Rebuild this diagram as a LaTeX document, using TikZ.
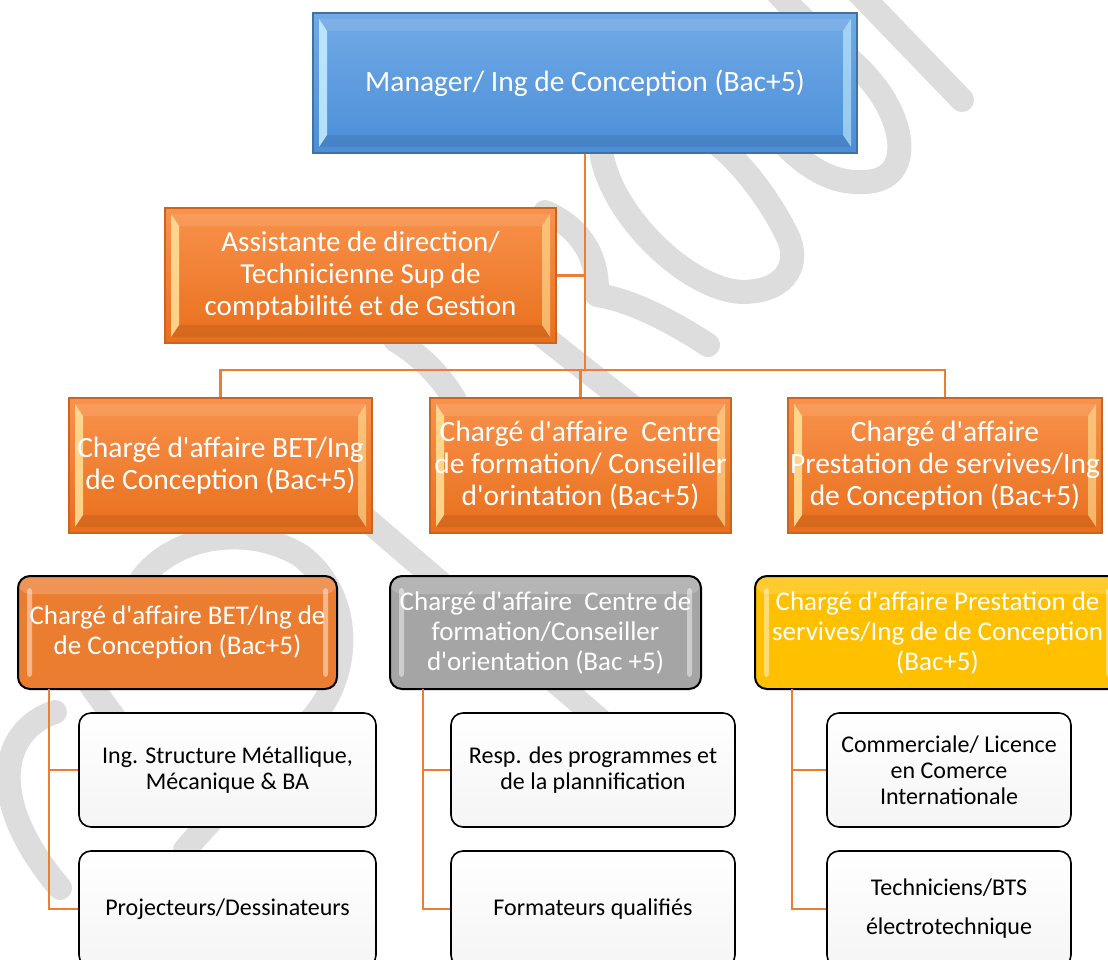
\documentclass[tikz,border=0pt]{standalone}
\usepackage{fontspec}
\setmainfont{Carlito}[Ligatures=TeXOff]
\usetikzlibrary{calc}
\definecolor{connc}{HTML}{ED7D31}
\definecolor{blueT}{HTML}{72AAE6}
\definecolor{blueB}{HTML}{4A8ED8}
\definecolor{blueD}{HTML}{41719C}
\definecolor{blueL}{HTML}{C8F0FF}
\definecolor{orT}{HTML}{F9924C}
\definecolor{orB}{HTML}{E86F1C}
\definecolor{orD}{HTML}{C9651F}
\definecolor{orL}{HTML}{FFE49A}
\definecolor{or3}{HTML}{EB7D31}
\definecolor{gr3}{HTML}{A5A5A5}
\definecolor{ye3}{HTML}{FFC000}
\definecolor{wmark}{HTML}{DDDDDD}
\tikzset{
  conn/.style={draw=connc, line width=2.6pt},
  wm/.style={draw=wmark, line width=24pt, line cap=round},
  bevelbox/.style n args={4}{rectangle, draw=#3, line width=1.2pt,
    top color=#1, bottom color=#2, text=white, align=center, inner sep=0pt,
    path picture={
      \fill[#4, opacity=0.85]
        ([xshift=6pt,yshift=-6pt]path picture bounding box.north west) --
        ([xshift=14pt,yshift=-18pt]path picture bounding box.north west) --
        ([xshift=14pt,yshift=18pt]path picture bounding box.south west) --
        ([xshift=6pt,yshift=6pt]path picture bounding box.south west) -- cycle;
      \fill[#4, opacity=0.6]
        ([xshift=-6pt,yshift=-6pt]path picture bounding box.north east) --
        ([xshift=-14pt,yshift=-18pt]path picture bounding box.north east) --
        ([xshift=-14pt,yshift=18pt]path picture bounding box.south east) --
        ([xshift=-6pt,yshift=6pt]path picture bounding box.south east) -- cycle;
      \fill[white, opacity=0.10]
        ([xshift=6pt,yshift=-6pt]path picture bounding box.north west) --
        ([xshift=-6pt,yshift=-6pt]path picture bounding box.north east) --
        ([xshift=-14pt,yshift=-18pt]path picture bounding box.north east) --
        ([xshift=14pt,yshift=-18pt]path picture bounding box.north west) -- cycle;
      \fill[black, opacity=0.08]
        ([xshift=6pt,yshift=6pt]path picture bounding box.south west) --
        ([xshift=-6pt,yshift=6pt]path picture bounding box.south east) --
        ([xshift=-14pt,yshift=18pt]path picture bounding box.south east) --
        ([xshift=14pt,yshift=18pt]path picture bounding box.south west) -- cycle;
    }},
  bluebox/.style={bevelbox={blueT}{blueB}{blueD}{blueL}, font=\fontsize{29.5}{32}\selectfont},
  orbox/.style={bevelbox={orT}{orB}{orD}{orL}, font=\fontsize{29.5}{32}\selectfont},
  roundbox/.style={rectangle, rounded corners=12pt, draw=black, line width=2pt,
    fill=#1, text=white, align=center, inner sep=0pt,
    font=\fontsize{27}{30}\selectfont,
    path picture={
      \fill[white, opacity=0.45, rounded corners=3pt]
        ([xshift=9pt,yshift=-12pt]path picture bounding box.north west) rectangle
        ([xshift=14pt,yshift=12pt]path picture bounding box.south west);
      \fill[white, opacity=0.45, rounded corners=3pt]
        ([xshift=-9pt,yshift=-12pt]path picture bounding box.north east) rectangle
        ([xshift=-14pt,yshift=12pt]path picture bounding box.south east);
      \fill[white, opacity=0.18]
        (path picture bounding box.north west) rectangle
        ([yshift=-18pt]path picture bounding box.north east);
    }},
  leafbox/.style={rectangle, rounded corners=12pt, draw=black, line width=1.6pt,
    top color=white, bottom color=black!4, text=black, align=center, inner sep=0pt,
    minimum width=#1, font=\fontsize{24}{26}\selectfont},
}
\begin{document}
\begin{tikzpicture}[x=1pt,y=-1pt]
\clip (0,0) rectangle (1108,960);
\fill[white] (0,0) rectangle (1108,960);

% watermark (light grey strokes behind the chart)
\draw[wm] (856,-10) -- (962,100);
\draw[wm] (775,-10) .. controls (820,40) and (850,55) .. (870,80)
  .. controls (905,120) and (915,180) .. (865,182) .. controls (835,184) and (810,170) .. (785,145);
\draw[wm] (602,157) .. controls (615,220) and (690,290) .. (742,292)
  .. controls (790,292) and (800,260) .. (787,235) .. controls (770,200) and (740,160) .. (712,140)
  .. controls (660,100) and (595,100) .. (602,157);
\draw[wm] (545,212) .. controls (575,225) and (597,250) .. (597,290);
\draw[wm] (597,295) .. controls (630,300) and (670,320) .. (708,345);
\draw[wm] (520,318) -- (710,468);
\draw[wm] (395,340) .. controls (420,355) and (440,375) .. (455,400);
\draw[wm] (330,488) -- (600,720);
\draw[wm] (135,590) .. controls (160,540) and (240,520) .. (300,555)
  .. controls (360,600) and (350,690) .. (300,730) .. controls (260,770) and (210,820) .. (185,850);
\draw[wm] (80,670) -- (130,740);
\draw[wm] (55,712) .. controls (0,730) and (-15,800) .. (60,888);

% level 1
\node[bluebox, minimum width=544pt, minimum height=140pt] (top) at (585,83)
  {Manager/ Ing de Conception (Bac+5)};
\node[orbox, font=\fontsize{29}{32}\selectfont, minimum width=391pt, minimum height=135pt] (asst) at (360.5,275.5)
  {Assistante de direction/\\Technicienne Sup de\\comptabilité et de Gestion};

% level 2
\node[orbox, minimum width=303pt, minimum height=135pt] (c1) at (220.5,465.5)
  {Chargé d'affaire BET/Ing\\de Conception (Bac+5)};
\node[orbox, minimum width=301pt, minimum height=135pt] (c2) at (580.5,465.5)
  {Chargé d'affaire\ \ Centre\\de formation/ Conseiller\\d'orintation (Bac+5)};
\node[orbox, minimum width=314pt, minimum height=135pt] (c3) at (945,465.5)
  {Chargé d'affaire\\Prestation de servives/Ing\\de Conception (Bac+5)};

% level 3
\node[roundbox=or3, minimum width=319pt, minimum height=113pt] (d1) at (177.5,632.5)
  {Chargé d'affaire BET/Ing de\\de Conception (Bac+5)};
\node[roundbox=gr3, minimum width=311pt, minimum height=113pt] (d2) at (545.5,632.5)
  {Chargé d'affaire\ \ Centre de\\formation/Conseiller\\d'orientation (Bac +5)};
\node[roundbox=ye3, minimum width=365pt, minimum height=113pt] (d3) at (937.5,632.5)
  {Chargé d'affaire Prestation de\\servives/Ing de de Conception\\(Bac+5)};

% level 4
\node[leafbox=297pt, minimum height=114pt] (e11) at (227.5,770)
  {Ing. Structure Métallique,\\Mécanique \& BA};
\node[leafbox=297pt, minimum height=116pt] (e12) at (227.5,909)
  {Projecteurs/Dessinateurs};
\node[leafbox=284pt, minimum height=114pt] (e21) at (593,770)
  {Resp. des programmes et\\de la plannification};
\node[leafbox=284pt, minimum height=116pt] (e22) at (593,909)
  {Formateurs qualifiés};
\node[leafbox=244pt, minimum height=114pt] (e31) at (949,770)
  {Commerciale/ Licence\\en Comerce\\Internationale};
\node[leafbox=244pt, minimum height=116pt] (e32) at (949,909)
  {Techniciens/BTS\\[13pt]électrotechnique};

% connectors
\coordinate (j) at (585,370);
\coordinate (v1) at (49,689);
\coordinate (v2) at (423,689);
\coordinate (v3) at (792,689);
\draw[conn] (top.south) -- (j);
\draw[conn] (asst.east) -- (asst.east -| j);
\draw[conn] (c1.north) -- (c1.north |- j) -- (c3.north |- j) -- (c3.north);
\draw[conn] (c2.north) -- (c2.north |- j);
\draw[conn] (v1) |- (e12.west);
\draw[conn] (v1 |- e11.west) -- (e11.west);
\draw[conn] (v2) |- (e22.west);
\draw[conn] (v2 |- e21.west) -- (e21.west);
\draw[conn] (v3) |- (e32.west);
\draw[conn] (v3 |- e31.west) -- (e31.west);
\end{tikzpicture}
\end{document}
